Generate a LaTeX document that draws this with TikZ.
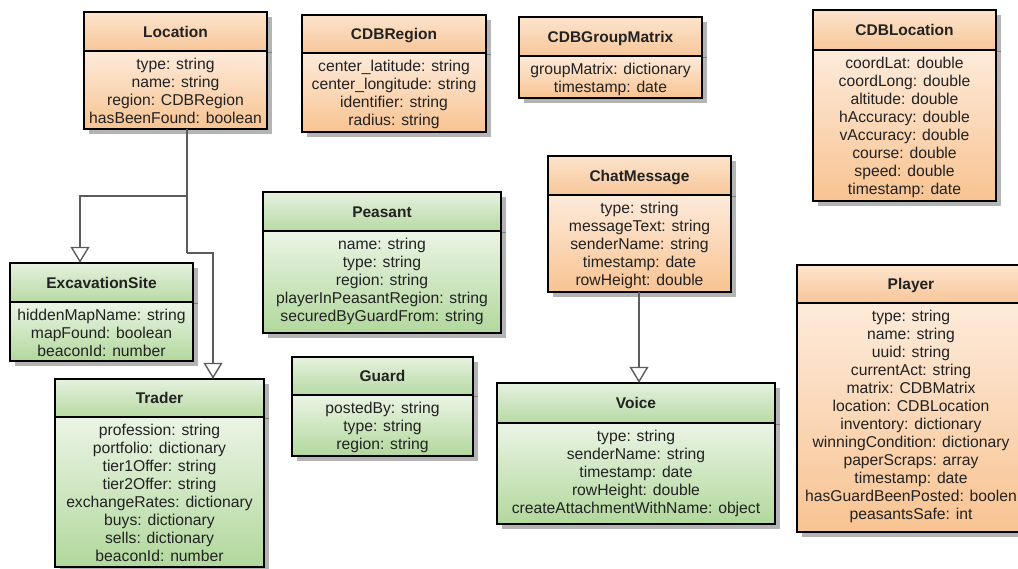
\documentclass[tikz,border=0pt]{standalone}
\usepackage{fontspec}
\setmainfont{Liberation Sans}
\usetikzlibrary{arrows.meta,fit}
\definecolor{orhtop}{HTML}{FCE4CD}
\definecolor{orhbot}{HTML}{F7C699}
\definecolor{orbtop}{HTML}{FDEBDB}
\definecolor{orbbot}{HTML}{F8C391}
\definecolor{grhtop}{HTML}{E6F1DF}
\definecolor{grhbot}{HTML}{B7DAA3}
\definecolor{grbtop}{HTML}{EBF4E5}
\definecolor{grbbot}{HTML}{B1D89C}
\definecolor{txtc}{HTML}{222222}
\definecolor{shadowc}{HTML}{B4B4B4}
\definecolor{linegray}{HTML}{5C5C5C}
\tikzset{
  boxline/.style={draw=black, line width=1.9pt},
  rowtext/.style={font=\fontsize{15.7}{18}\selectfont, text=txtc, inner sep=0pt, anchor=base},
  titletext/.style={font=\fontsize{15.5}{18}\selectfont\bfseries, text=txtc, inner sep=0pt, anchor=base},
  inherit/.style={draw=linegray, line width=1.4pt, -{Triangle[length=16pt,width=19pt,fill=white]}},
  conn/.style={draw=linegray, line width=1.4pt},
}
% #1 name, #2 x1, #3 y1, #4 x2, #5 ysep, #6 y2, #7 scheme, #8 title, #9 rows
\newcommand\umlclassbox[9]{%
  \fill[shadowc] (#2+5,#3+5) rectangle (#4+5,#6+5);
  \draw[shadowc!70!black, line width=1pt] (#4,#5+1) -- (#4+5,#5+1);
  \shade[top color=#7htop, bottom color=#7hbot] (#2,#3) rectangle (#4,#5);
  \shade[top color=#7btop, bottom color=#7bbot] (#2,#5) rectangle (#4,#6);
  \draw[boxline] (#2,#3) rectangle (#4,#6);
  \draw[boxline] (#2,#5) -- (#4,#5);
  \node[fit={(#2,#3) (#4,#6)}, inner sep=0pt] (#1) {};
  \node[titletext] at ({(#2+#4)/2},{(#3+#5)/2+5.5}) {#8};
  \foreach \t [count=\i from 0] in {#9}
    \node[rowtext] at ({(#2+#4)/2},{#5+12.5+18*\i+5.5}) {\t};
}
\begin{document}
\begin{tikzpicture}[x=1pt,y=-1pt]
\useasboundingbox (0,0) rectangle (1018,568);
\clip (0,0) rectangle (1018,568);
\fill[white] (0,0) rectangle (1018,568);

\umlclassbox{loc}{84}{12}{267}{51}{129}{or}{Location}{type: string,name: string,region: CDBRegion,hasBeenFound: boolean}
\umlclassbox{reg}{302}{15}{486}{53}{132}{or}{CDBRegion}{center\_latitude: string,center\_longitude: string,identifier: string,radius: string}
\umlclassbox{gm}{519}{17}{702}{56}{98}{or}{CDBGroupMatrix}{groupMatrix: dictionary,timestamp: date}
\umlclassbox{cdbl}{813}{10}{996}{50}{201}{or}{CDBLocation}{coordLat: double,coordLong: double,altitude: double,hAccuracy: double,vAccuracy: double,course: double,speed: double,timestamp: date}
\umlclassbox{ex}{10}{263}{193}{302}{361}{gr}{ExcavationSite}{hiddenMapName: string,mapFound: boolean,beaconId: number}
\umlclassbox{tr}{55}{379}{264}{417}{567}{gr}{Trader}{profession: string,portfolio: dictionary,tier1Offer: string,tier2Offer: string,exchangeRates: dictionary,buys: dictionary,sells: dictionary,beaconId: number}
\umlclassbox{pe}{263}{192}{501}{231}{333}{gr}{Peasant}{name: string,type: string,region: string,playerInPeasantRegion: string,securedByGuardFrom: string}
\umlclassbox{gu}{292}{357}{473}{395}{456}{gr}{Guard}{postedBy: string,type: string,region: string}
\umlclassbox{cm}{548}{156}{731}{195}{292}{or}{ChatMessage}{type: string,messageText: string,senderName: string,timestamp: date,rowHeight: double}
\umlclassbox{vo}{497}{383}{775}{423}{524}{gr}{Voice}{type: string,senderName: string,timestamp: date,rowHeight: double,createAttachmentWithName: object}
\umlclassbox{pl}{797}{265}{1025}{303}{532}{or}{Player}{type: string,name: string,uuid: string,currentAct: string,matrix: CDBMatrix,location: CDBLocation,inventory: dictionary,winningCondition: dictionary,paperScraps: array,timestamp: date,hasGuardBeenPosted: boolen,peasantsSafe: int}

\coordinate (j1) at (187,196);
\coordinate (j2) at (187,253);
\coordinate (exin) at (80,0);
\coordinate (trin) at (213,0);
\draw[conn] (loc.south -| j1) -- (j1) -- (j2);
\draw[inherit] (j1) -- (j1 -| exin) -- (ex.north -| exin);
\draw[inherit] (j2) -- (j2 -| trin) -- (tr.north -| trin);
\draw[inherit] (cm.south -| 639,0) -- (vo.north -| 639,0);
\end{tikzpicture}
\end{document}
